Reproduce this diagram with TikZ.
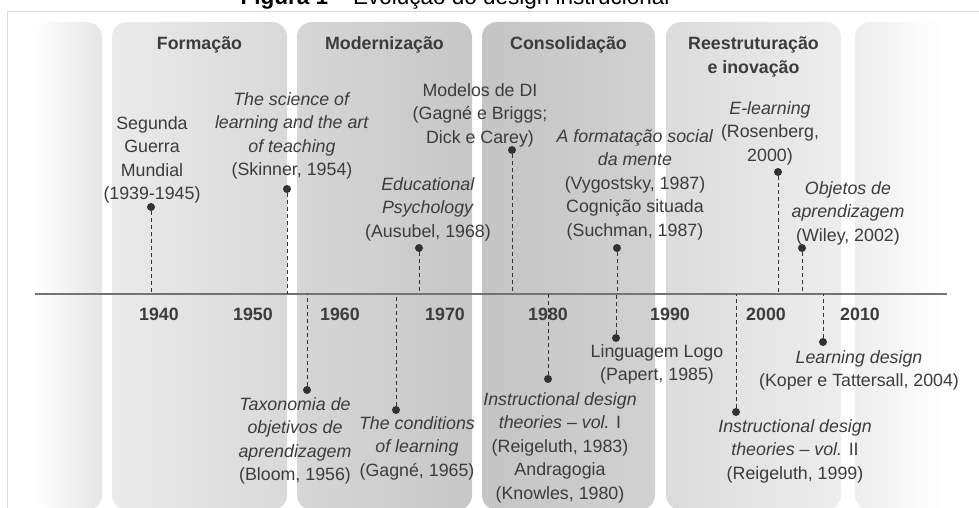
\documentclass[tikz,border=0pt]{standalone}
\usepackage{fontspec}
\setmainfont{Liberation Sans}
\usepackage{tikz}
\definecolor{framegray}{RGB}{218, 218, 218}
\definecolor{axisgray}{RGB}{115, 115, 115}
\definecolor{dotgray}{RGB}{50, 50, 50}
\definecolor{textgray}{RGB}{60, 60, 60}
\newcommand{\evfont}{\fontsize{17.8}{23.5}\selectfont}

\begin{document}
\begin{tikzpicture}[
    x=1pt, y=-1pt,
    band/.style={rounded corners=15pt, minimum width=175pt, minimum height=488pt, inner sep=0pt},
    period/.style={font=\evfont\bfseries, text=textgray, align=center, anchor=north, inner sep=0pt},
    year/.style={font=\evfont\bfseries, text=textgray, anchor=base, inner sep=0pt},
    event/.style={font=\evfont, text=textgray, align=center, anchor=north, inner sep=0pt},
    dot/.style={circle, fill=dotgray, minimum size=8pt, inner sep=0pt},
    link/.style={draw=dotgray, line width=0.9pt, dash pattern=on 4pt off 3pt},
]
    \useasboundingbox (0,0) rectangle (979,508);

    % Frame and title
    \draw[framegray, line width=1pt] (7,530) |- (1000,12);
    \node[font=\fontsize{22.5}{27}\selectfont, anchor=base, inner sep=0pt] (title) at (455,5)
        {\textbf{Figura 1} -- Evolução do design instrucional};

    % Bands
    \node[band, minimum width=67pt, left color=white, right color=black!10] (pre) at (68.5,266) {};
    \node[band, left color=black!8, right color=black!15] (form) at (199.5,266) {};
    \node[band, left color=black!16, right color=black!22] (mod) at (384.5,266) {};
    \node[band, minimum width=173pt, left color=black!23, right color=black!18] (cons) at (568.5,266) {};
    \node[band, left color=black!14, right color=black!7] (reest) at (753.5,266) {};
    \node[band, minimum width=90pt, left color=black!7, right color=white] (post) at (900,266) {};

    % Band titles
    \node[period] (tform) at (199.5,36.5) {Formação};
    \node[period] (tmod) at (384.5,36.5) {Modernização};
    \node[period] (tcons) at (568.5,36.5) {Consolidação};
    \node[period] (treest) at (753.5,36.5) {Reestruturação\\e inovação};

    % Axis
    \coordinate (axl) at (35,294);
    \coordinate (axr) at (947,294);
    \draw[axisgray, line width=1.4pt] (axl) -- (axr);

    % Events above the axis
    \node[dot] (d1) at (151,207) {};
    \node[dot] (d2) at (287,189) {};
    \node[dot] (d3) at (419,248) {};
    \node[dot] (d4) at (512,150) {};
    \node[dot] (d5) at (617,248) {};
    \node[dot] (d6) at (778,172) {};
    \node[dot] (d7) at (802,248) {};

    % Events below the axis
    \node[dot] (d8) at (307,390) {};
    \node[dot] (d9) at (396,410) {};
    \node[dot] (d10) at (548,379) {};
    \node[dot] (d11) at (616,338) {};
    \node[dot] (d12) at (736,412) {};
    \node[dot] (d13) at (823,342) {};

    % Dashed links
    \draw[link] (d1) -- (d1 |- axl);
    \draw[link] (d2) -- (d2 |- axl);
    \draw[link] (d3) -- (d3 |- axl);
    \draw[link] (d4) -- (d4 |- axl);
    \draw[link] (d5) -- (d5 |- axl);
    \draw[link] (d6) -- (d6 |- axl);
    \draw[link] (d7) -- (d7 |- axl);
    \draw[link] (d8) -- (d8 |- axl);
    \draw[link] (d9) -- (d9 |- axl);
    \draw[link] (d10) -- (d10 |- axl);
    \draw[link] (d11) -- (d11 |- axl);
    \draw[link] (d12) -- (d12 |- axl);
    \draw[link] (d13) -- (d13 |- axl);

    % Years
    \node[year] (y1940) at (159,320) {1940};
    \node[year] (y1950) at (253,320) {1950};
    \node[year] (y1960) at (340,320) {1960};
    \node[year] (y1970) at (445,320) {1970};
    \node[year] (y1980) at (548,320) {1980};
    \node[year] (y1990) at (670,320) {1990};
    \node[year] (y2000) at (766,320) {2000};
    \node[year] (y2010) at (860,320) {2010};

    % Event texts
    \node[event] (t1) at (152,116) {Segunda\\Guerra\\Mundial\\(1939-1945)};
    \node[event] (t2) at (292,92) {\textit{The science of}\\\textit{learning and the art}\\\textit{of teaching}\\(Skinner, 1954)};
    \node[event] (t3) at (428,177) {\textit{Educational}\\\textit{Psychology}\\(Ausubel, 1968)};
    \node[event] (t4) at (480,83) {Modelos de DI\\(Gagné e Briggs;\\Dick e Carey)};
    \node[event] (t5) at (635,129) {\textit{A formatação social}\\\textit{da mente}\\(Vygostsky, 1987)\\Cognição situada\\(Suchman, 1987)};
    \node[event] (t6) at (770,101) {\textit{E-learning}\\(Rosenberg,\\2000)};
    \node[event] (t7) at (848,181) {\textit{Objetos de}\\\textit{aprendizagem}\\(Wiley, 2002)};
    \node[event] (t8) at (295,397) {\textit{Taxonomia de}\\\textit{objetivos de}\\\textit{aprendizagem}\\(Bloom, 1956)};
    \node[event] (t9) at (417,416) {\textit{The conditions}\\\textit{of learning}\\(Gagné, 1965)};
    \node[event] (t10) at (560,392) {\textit{Instructional design}\\\textit{theories -- vol.} I\\(Reigeluth, 1983)\\Andragogia\\(Knowles, 1980)};
    \node[event] (t11) at (657,344) {Linguagem Logo\\(Papert, 1985)};
    \node[event] (t12) at (795,419) {\textit{Instructional design}\\\textit{theories -- vol.} II\\(Reigeluth, 1999)};
    \node[event] (t13) at (859,350) {\textit{Learning design}\\(Koper e Tattersall, 2004)};

\end{tikzpicture}
\end{document}
